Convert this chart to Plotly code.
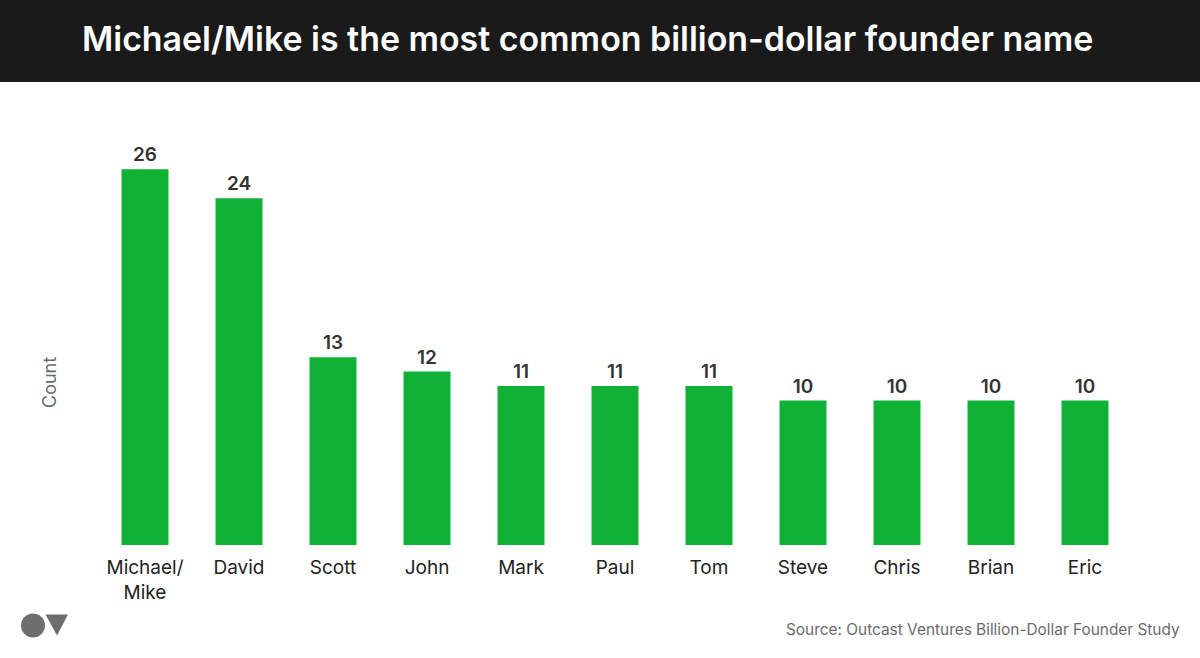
import plotly.graph_objects as go

names = ['Michael/<br>Mike', 'David', 'Scott', 'John', 'Mark', 'Paul', 'Tom', 'Steve', 'Chris', 'Brian', 'Eric']
counts = [26, 24, 13, 12, 11, 11, 11, 10, 10, 10, 10]

W, H = 1200, 658
LEFT, RIGHT, TOP, BOTTOM = 98, 1132, 100, 545

def px(x):
    return (x - LEFT) / (RIGHT - LEFT)

def py(y):
    return (BOTTOM - y) / (BOTTOM - TOP)

fig = go.Figure(go.Bar(
    x=names,
    y=counts,
    width=0.5,
    marker=dict(color='#10b236', line_width=0),
    text=counts,
    textposition='outside',
    cliponaxis=False,
    textfont=dict(family='Inter', size=19, color='#333333', weight=600),
))

fig.update_layout(
    width=W,
    height=H,
    margin=dict(l=LEFT, r=W - RIGHT, t=TOP, b=H - BOTTOM, pad=0),
    paper_bgcolor='white',
    plot_bgcolor='white',
    showlegend=False,
    font=dict(family='Inter'),
    shapes=[
        # title band
        dict(type='rect', xref='paper', yref='paper', x0=px(0), x1=px(W), y0=py(0), y1=py(82),
             fillcolor='#1a1a1a', line_width=0),
        # logo
        dict(type='circle', xref='paper', yref='paper', x0=px(21), x1=px(45), y0=py(613.5), y1=py(637.5),
             fillcolor='#6e6e6e', line_width=0),
        dict(type='path', xref='paper', yref='paper',
             path=f'M {px(45.5)} {py(614.5)} L {px(68)} {py(614.5)} L {px(57)} {py(635.5)} Z',
             fillcolor='#6e6e6e', line_width=0),
    ],
    annotations=[
        dict(text='Michael/Mike is the most common billion-dollar founder name',
             xref='paper', yref='paper', x=px(587.5), y=py(38.5), showarrow=False,
             xanchor='center', yanchor='middle',
             font=dict(family='Inter', size=33.9, color='white', weight=600)),
        dict(text='Source: Outcast Ventures Billion-Dollar Founder Study',
             xref='paper', yref='paper', x=px(1182), y=py(629), showarrow=False,
             xanchor='right', yanchor='middle',
             font=dict(family='Inter', size=15.4, color='#6b6b6b')),
        dict(text='Count',
             xref='paper', yref='paper', x=px(49), y=py(383), showarrow=False,
             xanchor='center', yanchor='middle', textangle=-90,
             font=dict(family='Inter', size=18, color='#6b6b6b')),
    ],
)

fig.update_xaxes(
    showline=False,
    showgrid=False,
    ticks='',
    ticklabelstandoff=9,
    tickfont=dict(family='Inter', size=19, color='#222222'),
    range=[-0.5, len(names) - 0.5],
)
fig.update_yaxes(
    range=[0, 30.8],
    visible=False,
)

# page body has a default margin, drop it so the figure fills the window
fig.write_html(
    'out.html',
    config={'displayModeBar': False},
    post_script="document.body.style.margin='0';document.body.style.overflow='hidden';",
)
